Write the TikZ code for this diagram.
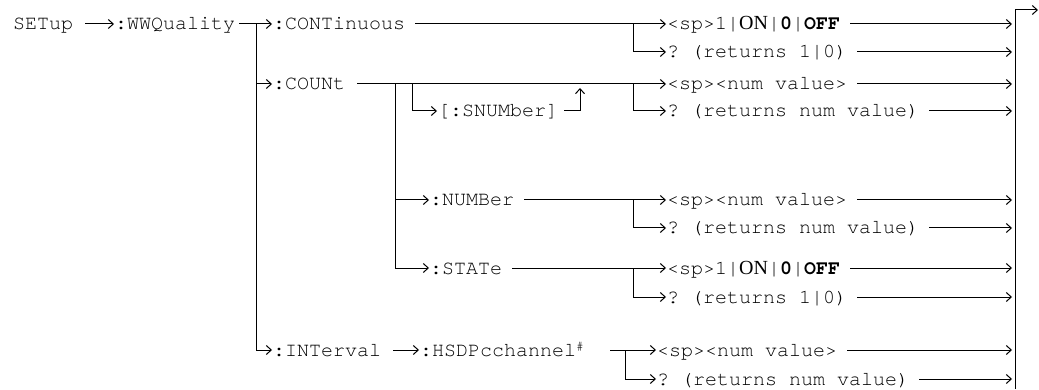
\documentclass[tikz,border=0pt]{standalone}
\usepackage{fontspec}
\setmainfont{Liberation Serif}
\setmonofont{texgyrecursor-regular.otf}[BoldFont=texgyrecursor-bold.otf]
\usetikzlibrary{arrows.meta,calc}
\newcommand\dfont{\fontsize{20}{24}\selectfont\ttfamily}
\begin{document}
\begin{tikzpicture}[x=1pt,y=-1pt,
  lbl/.style={inner sep=0pt,anchor=base west,font=\dfont},
  ln/.style={line width=1pt},
  arr/.style={ln,-{Straight Barb[length=5pt,width=9pt,line width=1pt]},shorten >=1pt}]
\useasboundingbox (0,0) rectangle (1039,390);
% rows
\coordinate (R1) at (0,24);
\coordinate (R2) at (0,52);
\coordinate (R3) at (0,84);
\coordinate (R4) at (0,111);
\coordinate (R5) at (0,200);
\coordinate (R6) at (0,228);
\coordinate (R7) at (0,268);
\coordinate (R8) at (0,297);
\coordinate (R9) at (0,350);
\coordinate (R10) at (0,379);
% left texts
\node[lbl] (setup) at (13,30) {SETup};
\node[lbl] (ww) at (115,30) {:WWQuality};
\node[lbl] (cont) at (273,30) {:CONTinuous};
\node[lbl] (count) at (273,90) {:COUNt};
\node[lbl] (snum) at (438,117) {[:SNUMber]};
\node[lbl] (numb) at (430,206) {:NUMBer};
\node[lbl] (state) at (430,274) {:STATe};
\node[lbl] (intv) at (273,356) {:INTerval};
\node[lbl] (hsdp) at (420,356) {:HSDPcchannel\raisebox{6pt}{\fontsize{13}{13}\selectfont\#}};
% right texts
\node[lbl] (c1) at (667,30) {<sp>1|{\rmfamily ON}|\textbf{0}|\textbf{OFF}};
\node[lbl] (c2) at (667,58) {? (returns 1|0)};
\node[lbl] (n1) at (667,90) {<sp><num value>};
\node[lbl] (n2) at (667,117) {? (returns num value)};
\node[lbl] (m1) at (667,206) {<sp><num value>};
\node[lbl] (m2) at (667,234) {? (returns num value)};
\node[lbl] (s1) at (667,274) {<sp>1|{\rmfamily ON}|\textbf{0}|\textbf{OFF}};
\node[lbl] (s2) at (667,303) {? (returns 1|0)};
\node[lbl] (h1) at (657,356) {<sp><num value>};
\node[lbl] (h2) at (657,385) {? (returns num value)};
% junction coordinates
\coordinate (J1) at (256,24);
\coordinate (C1) at (395,84);
\coordinate (S1) at (412,84);
\coordinate (Sup) at (580,87);
\coordinate (B1) at (633,24);
\coordinate (B3) at (633,84);
\coordinate (B5) at (633,200);
\coordinate (B7) at (633,268);
\coordinate (H0) at (610,350);
\coordinate (B9) at (625,350);
\coordinate (V) at (1013,0);
\coordinate (Vt) at (1015,10);
\coordinate (Vb) at (1015,389);
\coordinate (out) at (1039,10);
% left connectors
\draw[arr] ($(setup.east|-R1)+(12,0)$) -- (ww.west|-R1);
\draw[arr] ($(ww.east|-R1)+(4,0)$) -- (cont.west|-R1);
\draw[ln] (J1) -- (J1|-R9);
\draw[arr] (J1|-R3) -- (count.west|-R3);
\draw[arr] (J1|-R9) -- (intv.west|-R9);
\draw[arr] ($(intv.east|-R9)+(12,0)$) -- (hsdp.west|-R9);
% CONTinuous
\draw[arr] ($(cont.east|-R1)+(10,0)$) -- (c1.west|-R1);
\draw[arr] (B1) |- (c2.west|-R2);
% COUNt
\draw[arr] ($(count.east|-R3)+(12,0)$) -- (n1.west|-R3);
\draw[arr] (B3) |- (n2.west|-R4);
\draw[ln] (C1) -- (C1|-R7);
\draw[arr] (S1) |- (snum.west|-R4);
\draw[arr] ($(snum.east|-R4)+(6,0)$) -| (Sup);
% NUMBer
\draw[arr] (C1|-R5) -- (numb.west|-R5);
\draw[arr] ($(numb.east|-R5)+(10,0)$) -- (m1.west|-R5);
\draw[arr] (B5) |- (m2.west|-R6);
% STATe
\draw[arr] (C1|-R7) -- (state.west|-R7);
\draw[arr] ($(state.east|-R7)+(10,0)$) -- (s1.west|-R7);
\draw[arr] (B7) |- (s2.west|-R8);
% HSDPcchannel
\draw[arr] (H0) -- (h1.west|-R9);
\draw[arr] (B9) |- (h2.west|-R10);
% right side
\foreach \n/\r in {c1/R1,c2/R2,n1/R3,n2/R4,m1/R5,m2/R6,s1/R7,s2/R8,h1/R9,h2/R10}
  \draw[arr] ($(\n.east|-\r)+(10,0)$) -- (V|-\r);
\draw[ln] (Vb) -- (Vt);
\draw[arr] (Vt) -- (out);
\end{tikzpicture}
\end{document}
